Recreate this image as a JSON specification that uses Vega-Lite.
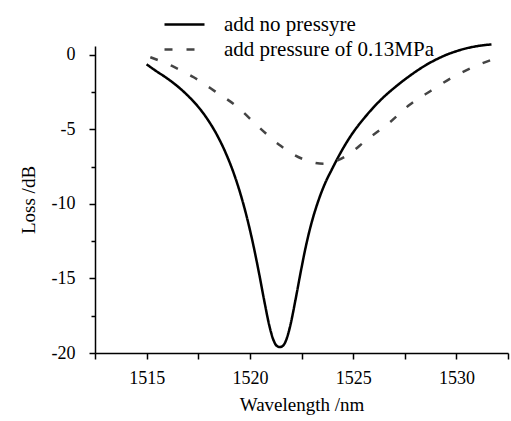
{
  "$schema": "https://vega.github.io/schema/vega-lite/v6.json",
  "width": 413,
  "height": 307,
  "autosize": {"type": "none"},
  "padding": {"left": 95, "top": 46, "right": 3, "bottom": 68},
  "background": "white",
  "config": {
    "view": {"stroke": null},
    "font": "Liberation Serif, Times New Roman, serif",
    "axis": {
      "grid": false,
      "domainColor": "black",
      "domainWidth": 1.5,
      "tickColor": "black",
      "tickWidth": 1.5,
      "labelFont": "Liberation Serif, Times New Roman, serif",
      "labelFontSize": 18,
      "labelColor": "black",
      "titleFont": "Liberation Serif, Times New Roman, serif",
      "titleFontSize": 19,
      "titleFontWeight": "normal",
      "titleColor": "black"
    },
    "legend": {
      "labelFont": "Liberation Serif, Times New Roman, serif",
      "labelFontSize": 21,
      "labelColor": "black",
      "labelLimit": 400
    }
  },
  "data": {
    "values": [
      {"s": "add no pressyre", "wl": 1515.0, "loss": -0.63},
      {"s": "add no pressyre", "wl": 1515.45, "loss": -1.07},
      {"s": "add no pressyre", "wl": 1515.95, "loss": -1.53},
      {"s": "add no pressyre", "wl": 1516.45, "loss": -2.05},
      {"s": "add no pressyre", "wl": 1516.95, "loss": -2.67},
      {"s": "add no pressyre", "wl": 1517.45, "loss": -3.4},
      {"s": "add no pressyre", "wl": 1517.95, "loss": -4.32},
      {"s": "add no pressyre", "wl": 1518.45, "loss": -5.48},
      {"s": "add no pressyre", "wl": 1518.85, "loss": -6.64},
      {"s": "add no pressyre", "wl": 1519.25, "loss": -8.06},
      {"s": "add no pressyre", "wl": 1519.55, "loss": -9.35},
      {"s": "add no pressyre", "wl": 1519.85, "loss": -10.87},
      {"s": "add no pressyre", "wl": 1520.15, "loss": -12.65},
      {"s": "add no pressyre", "wl": 1520.45, "loss": -14.69},
      {"s": "add no pressyre", "wl": 1520.7, "loss": -16.52},
      {"s": "add no pressyre", "wl": 1520.95, "loss": -18.21},
      {"s": "add no pressyre", "wl": 1521.15, "loss": -19.16},
      {"s": "add no pressyre", "wl": 1521.3, "loss": -19.52},
      {"s": "add no pressyre", "wl": 1521.45, "loss": -19.6},
      {"s": "add no pressyre", "wl": 1521.6, "loss": -19.52},
      {"s": "add no pressyre", "wl": 1521.75, "loss": -19.16},
      {"s": "add no pressyre", "wl": 1521.95, "loss": -18.2},
      {"s": "add no pressyre", "wl": 1522.2, "loss": -16.5},
      {"s": "add no pressyre", "wl": 1522.45, "loss": -14.65},
      {"s": "add no pressyre", "wl": 1522.75, "loss": -12.6},
      {"s": "add no pressyre", "wl": 1523.0, "loss": -11.2},
      {"s": "add no pressyre", "wl": 1523.3, "loss": -9.85},
      {"s": "add no pressyre", "wl": 1523.6, "loss": -8.75},
      {"s": "add no pressyre", "wl": 1524.0, "loss": -7.6},
      {"s": "add no pressyre", "wl": 1524.5, "loss": -6.3},
      {"s": "add no pressyre", "wl": 1525.0, "loss": -5.2},
      {"s": "add no pressyre", "wl": 1525.5, "loss": -4.3},
      {"s": "add no pressyre", "wl": 1526.0, "loss": -3.5},
      {"s": "add no pressyre", "wl": 1526.5, "loss": -2.8},
      {"s": "add no pressyre", "wl": 1527.0, "loss": -2.2},
      {"s": "add no pressyre", "wl": 1527.5, "loss": -1.65},
      {"s": "add no pressyre", "wl": 1528.0, "loss": -1.15},
      {"s": "add no pressyre", "wl": 1528.5, "loss": -0.7},
      {"s": "add no pressyre", "wl": 1529.0, "loss": -0.32},
      {"s": "add no pressyre", "wl": 1529.5, "loss": 0.0},
      {"s": "add no pressyre", "wl": 1530.0, "loss": 0.25},
      {"s": "add no pressyre", "wl": 1530.5, "loss": 0.45},
      {"s": "add no pressyre", "wl": 1531.0, "loss": 0.59},
      {"s": "add no pressyre", "wl": 1531.5, "loss": 0.68},
      {"s": "add no pressyre", "wl": 1531.7, "loss": 0.7},
      {"s": "add pressure of 0.13MPa", "wl": 1515.18, "loss": -0.15},
      {"s": "add pressure of 0.13MPa", "wl": 1516.23, "loss": -0.74},
      {"s": "add pressure of 0.13MPa", "wl": 1517.28, "loss": -1.5},
      {"s": "add pressure of 0.13MPa", "wl": 1518.33, "loss": -2.46},
      {"s": "add pressure of 0.13MPa", "wl": 1519.38, "loss": -3.47},
      {"s": "add pressure of 0.13MPa", "wl": 1520.44, "loss": -4.85},
      {"s": "add pressure of 0.13MPa", "wl": 1521.49, "loss": -6.1},
      {"s": "add pressure of 0.13MPa", "wl": 1522.54, "loss": -6.97},
      {"s": "add pressure of 0.13MPa", "wl": 1523.59, "loss": -7.3},
      {"s": "add pressure of 0.13MPa", "wl": 1524.64, "loss": -6.8},
      {"s": "add pressure of 0.13MPa", "wl": 1525.69, "loss": -5.66},
      {"s": "add pressure of 0.13MPa", "wl": 1526.71, "loss": -4.6},
      {"s": "add pressure of 0.13MPa", "wl": 1527.72, "loss": -3.36},
      {"s": "add pressure of 0.13MPa", "wl": 1528.77, "loss": -2.4},
      {"s": "add pressure of 0.13MPa", "wl": 1529.82, "loss": -1.5},
      {"s": "add pressure of 0.13MPa", "wl": 1530.87, "loss": -0.78},
      {"s": "add pressure of 0.13MPa", "wl": 1531.92, "loss": -0.22}
    ]
  },
  "mark": {"type": "line", "interpolate": "monotone", "strokeWidth": 2.5},
  "encoding": {
    "x": {
      "field": "wl",
      "type": "quantitative",
      "scale": {"domain": [1512.5, 1532.5], "nice": false, "zero": false},
      "axis": {
        "title": "Wavelength /nm",
        "values": [1512.5, 1515, 1517.5, 1520, 1522.5, 1525, 1527.5, 1530, 1532.5],
        "labelExpr": "datum.value % 5 === 0 ? '' + datum.value : ''",
        "tickSize": 6,
        "labelPadding": 10,
        "titlePadding": 8,
        "labelFlush": false
      }
    },
    "y": {
      "field": "loss",
      "type": "quantitative",
      "scale": {"domain": [-20, 0.6], "nice": false, "zero": false},
      "axis": {
        "title": "Loss /dB",
        "values": [0, -2.5, -5, -7.5, -10, -12.5, -15, -17.5, -20],
        "labelExpr": "datum.value % 5 === 0 ? '' + datum.value : ''",
        "tickSize": {"condition": {"test": "datum.value % 5 === 0", "value": 6}, "value": 4},
        "labelPadding": 14,
        "titlePadding": 13,
        "labelFlush": false
      }
    },
    "stroke": {
      "field": "s",
      "type": "nominal",
      "scale": {"domain": ["add no pressyre", "add pressure of 0.13MPa"], "range": ["black", "#444444"]},
      "legend": {
        "title": null,
        "orient": "none",
        "legendX": 79,
        "legendY": -32,
        "padding": 0,
        "symbolType": "M-4,0H4",
        "symbolSize": 100,
        "symbolStrokeWidth": 2.5,
        "labelOffset": 29,
        "rowPadding": 3
      }
    },
    "strokeDash": {
      "field": "s",
      "type": "nominal",
      "scale": {"domain": ["add no pressyre", "add pressure of 0.13MPa"], "range": [[1, 0], [8, 14]]},
      "legend": {
        "title": null,
        "orient": "none",
        "legendX": 79,
        "legendY": -32,
        "padding": 0,
        "symbolType": "M-4,0H4",
        "symbolSize": 100,
        "symbolStrokeWidth": 2.5,
        "labelOffset": 29,
        "rowPadding": 3
      }
    }
  }
}
